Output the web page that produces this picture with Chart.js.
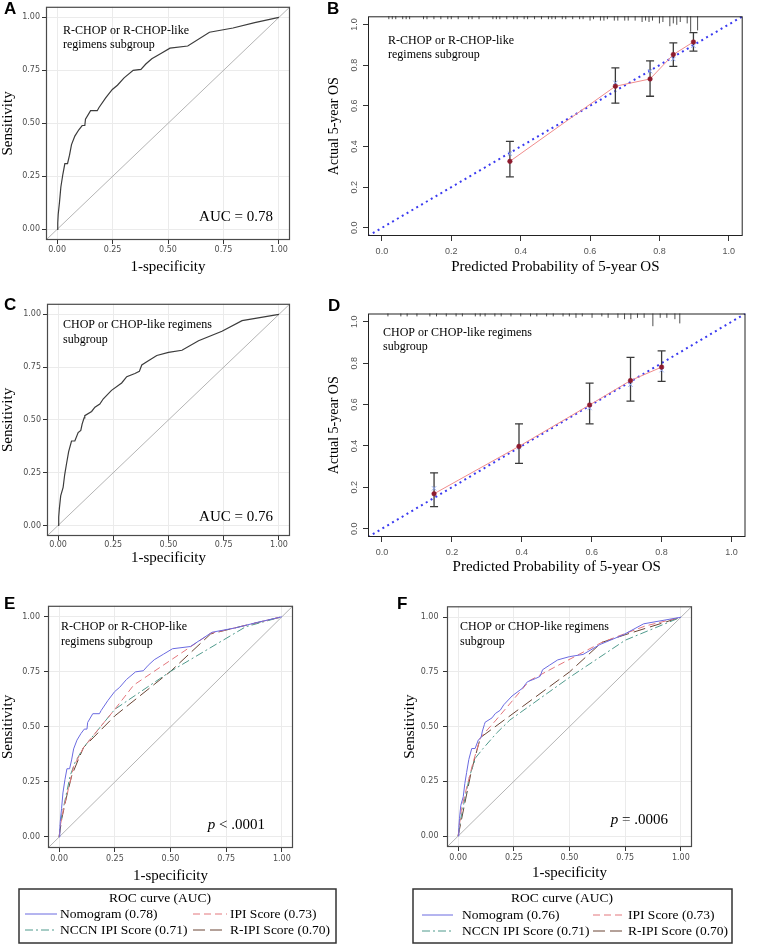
<!DOCTYPE html>
<html>
<head>
<meta charset="utf-8">
<script src="https://cdn.jsdelivr.net/npm/chart.js@4.4.1/dist/chart.umd.min.js"></script>
<style>
  body { margin: 0; background: #fff; }
  #fig { position: relative; width: 759px; height: 945px; overflow: hidden; background: #fff; }
  .panel { position: absolute; }
  .tag { position: absolute; font: bold 17px 'Liberation Sans', Arial, sans-serif; line-height: 17px; color: #000; }
</style>
</head>
<body>
<div id="fig">
  <div class="panel" style="left:0;top:0"><canvas id="rocA" width="295" height="280"></canvas></div>
  <div class="panel" style="left:310px;top:0"><canvas id="calB" width="449" height="280"></canvas></div>
  <div class="panel" style="left:0;top:297px"><canvas id="rocC" width="295" height="280"></canvas></div>
  <div class="panel" style="left:310px;top:300px"><canvas id="calD" width="449" height="280"></canvas></div>
  <div class="panel" style="left:0;top:597px"><canvas id="rocE" width="340" height="348"></canvas></div>
  <div class="panel" style="left:400px;top:597px"><canvas id="rocF" width="359" height="348"></canvas></div>

  <div class="tag" style="left:4px;top:0">A</div>
  <div class="tag" style="left:327px;top:0">B</div>
  <div class="tag" style="left:4px;top:296px">C</div>
  <div class="tag" style="left:328px;top:297px">D</div>
  <div class="tag" style="left:4px;top:595px">E</div>
  <div class="tag" style="left:397px;top:595px">F</div>
</div>

<script>
// ---- data ----

// axis ticks / limits
const rocTicks = [0, 0.25, 0.5, 0.75, 1];
const calTicks = [0, 0.2, 0.4, 0.6, 0.8, 1];
const rocLimits = [-0.05, 1.05];
const calLimits = [-0.04, 1.04];

// legend names + AUCs
const scoreNames = ['Nomogram', 'IPI Score', 'NCCN IPI Score', 'R-IPI Score'];
const aucRchop = [0.78, 0.73, 0.71, 0.70];
const aucChop = [0.76, 0.73, 0.71, 0.70];

// R-CHOP subgroup ROC curves (1-specificity, sensitivity)
const nomoRFpr = [0, 0.003, 0.005, 0.011, 0.017, 0.026, 0.035, 0.047, 0.056, 0.065, 0.080, 0.098, 0.113, 0.125, 0.128, 0.151, 0.181, 0.189, 0.219, 0.249, 0.272, 0.302, 0.343, 0.378, 0.400, 0.427, 0.468, 0.509, 0.589, 0.687, 0.793, 0.891, 1];
const nomoRTpr = [0, 0.03, 0.07, 0.13, 0.20, 0.26, 0.31, 0.31, 0.35, 0.40, 0.44, 0.47, 0.49, 0.49, 0.52, 0.56, 0.56, 0.575, 0.62, 0.66, 0.68, 0.715, 0.75, 0.755, 0.78, 0.805, 0.83, 0.855, 0.865, 0.93, 0.95, 0.975, 1];
const ipiRFpr = [0, 0.005, 0.02, 0.042, 0.065, 0.11, 0.25, 0.335, 0.68, 0.778, 1];
const ipiRTpr = [0, 0.05, 0.13, 0.22, 0.32, 0.407, 0.58, 0.69, 0.925, 0.947, 1];
const nccnRFpr = [0, 0.009, 0.027, 0.05, 0.072, 0.11, 0.25, 0.5, 0.838, 1];
const nccnRTpr = [0, 0.084, 0.17, 0.28, 0.34, 0.407, 0.58, 0.752, 0.955, 1];
const ripiRFpr = [0, 0.012, 0.035, 0.057, 0.087, 0.11, 0.25, 0.5, 0.68, 0.778, 1];
const ripiRTpr = [0, 0.084, 0.19, 0.28, 0.354, 0.407, 0.55, 0.752, 0.922, 0.947, 1];

// CHOP subgroup ROC curves
const nomoCFpr = [0, 0.003, 0.006, 0.012, 0.023, 0.03, 0.038, 0.048, 0.061, 0.076, 0.091, 0.103, 0.109, 0.118, 0.121, 0.152, 0.167, 0.189, 0.205, 0.242, 0.288, 0.311, 0.348, 0.368, 0.379, 0.409, 0.447, 0.5, 0.561, 0.636, 0.742, 0.833, 1];
const nomoCTpr = [0, 0.04, 0.08, 0.14, 0.18, 0.24, 0.29, 0.35, 0.40, 0.40, 0.44, 0.45, 0.48, 0.51, 0.52, 0.54, 0.56, 0.575, 0.60, 0.64, 0.675, 0.705, 0.72, 0.73, 0.76, 0.78, 0.805, 0.82, 0.83, 0.875, 0.92, 0.97, 1];
const ipiCFpr = [0, 0.015, 0.037, 0.067, 0.1, 0.17, 0.32, 0.43, 0.645, 0.84, 1];
const ipiCTpr = [0, 0.126, 0.216, 0.336, 0.45, 0.53, 0.71, 0.77, 0.885, 0.96, 1];
const nccnCFpr = [0, 0.012, 0.03, 0.052, 0.08, 0.112, 0.172, 0.232, 0.5, 0.75, 1];
const nccnCTpr = [0, 0.08, 0.17, 0.276, 0.36, 0.40, 0.47, 0.53, 0.725, 0.895, 1];
const ripiCFpr = [0, 0.03, 0.06, 0.1, 0.5, 0.645, 0.75, 1];
const ripiCTpr = [0, 0.15, 0.30, 0.45, 0.75, 0.885, 0.92, 1];

// calibration, R-CHOP subgroup
const calRPred = [0.369, 0.673, 0.773, 0.840, 0.898];
const calRObs = [0.327, 0.696, 0.732, 0.852, 0.914];
const calRLo = [0.251, 0.613, 0.647, 0.794, 0.869];
const calRHi = [0.425, 0.786, 0.821, 0.909, 0.960];
const calRCorr = [0.365, 0.713, 0.770, 0.830, 0.895];
const rugRX = [0.02, 0.03, 0.04, 0.06, 0.07, 0.08, 0.12, 0.13, 0.15, 0.17, 0.19, 0.20, 0.22, 0.25, 0.26, 0.28, 0.32, 0.33, 0.34, 0.36, 0.38, 0.39, 0.41, 0.42, 0.44, 0.46, 0.48, 0.49, 0.50, 0.52, 0.53, 0.55, 0.57, 0.58, 0.60, 0.61, 0.63, 0.64, 0.65, 0.67, 0.68, 0.70, 0.71, 0.73, 0.75, 0.76, 0.77, 0.78, 0.80, 0.81, 0.83, 0.84, 0.85, 0.86, 0.88, 0.89, 0.91];
const rugRN = [1, 1, 1, 1, 1, 1, 1, 1, 1, 1, 1, 1, 1, 1, 1, 1, 1, 1, 1, 1, 1, 1, 1, 1, 1, 1, 1, 1, 1, 1, 1, 1, 1, 1, 2, 1, 2, 2, 1, 2, 2, 2, 2, 2, 3, 2, 3, 2, 4, 3, 6, 4, 5, 3, 4, 10, 9];

// calibration, CHOP subgroup
const calCPred = [0.149, 0.392, 0.594, 0.711, 0.800];
const calCObs = [0.169, 0.398, 0.598, 0.716, 0.781];
const calCLo = [0.107, 0.316, 0.507, 0.617, 0.712];
const calCHi = [0.270, 0.507, 0.704, 0.828, 0.859];
const calCCorr = [0.195, 0.394, 0.583, 0.696, 0.766];
const rugCX = [0.017, 0.054, 0.072, 0.10, 0.137, 0.156, 0.184, 0.212, 0.23, 0.267, 0.281, 0.295, 0.323, 0.341, 0.369, 0.397, 0.425, 0.443, 0.471, 0.49, 0.518, 0.536, 0.555, 0.573, 0.601, 0.629, 0.647, 0.675, 0.694, 0.712, 0.731, 0.75, 0.775, 0.796, 0.815, 0.838, 0.852];
const rugCN = [1, 1, 1, 1, 1, 1, 1, 1, 1, 1, 1, 1, 1, 1, 1, 1, 1, 1, 1, 1, 1, 1, 2, 1, 2, 1, 2, 2, 3, 3, 2, 2, 8, 2, 2, 3, 6];

// ---- styling ----
const serif = "'Liberation Serif', 'Times New Roman', serif";
const ggSans = "'DejaVu Sans', sans-serif";
const rSans = "'Liberation Sans', Arial, sans-serif";

Chart.defaults.font.family = serif;
Chart.defaults.animation = false;
Chart.defaults.events = [];
Chart.defaults.plugins.legend.display = false;
Chart.defaults.plugins.tooltip.enabled = false;

const toPts = (xs, ys) => xs.map((x, i) => ({ x, y: ys[i] }));

// box around the plotting panel
Chart.register({
    id: 'panelBox',
    afterDatasetsDraw(chart, args, opts) {
        const { ctx, chartArea: { left, top, right, bottom } } = chart;
        ctx.save();
        ctx.strokeStyle = opts.color || '#444';
        ctx.lineWidth = opts.width || 1;
        ctx.strokeRect(left + 0.5, top + 0.5, right - left - 1, bottom - top - 1);
        ctx.restore();
    }
});

// free text inside the panel (subgroup name, AUC, p value)
Chart.register({
    id: 'notes',
    afterDraw(chart, args, opts) {
        if (!opts.items) return;
        const { ctx, chartArea: { left, top, right, bottom } } = chart;
        ctx.save();
        ctx.fillStyle = '#000';
        ctx.textBaseline = 'middle';
        opts.items.forEach(it => {
            const parts = it.parts || [[it.text, it.font]];
            let width = 0;
            parts.forEach(([t, f]) => { ctx.font = f; width += ctx.measureText(t).width; });
            let x = it.corner === 'br' ? right + it.dx : left + it.dx;
            const y = it.corner === 'br' ? bottom + it.dy : top + it.dy;
            if (it.align === 'right') x -= width;
            parts.forEach(([t, f]) => {
                ctx.font = f;
                ctx.textAlign = 'left';
                ctx.fillText(t, x, y);
                x += ctx.measureText(t).width;
            });
        });
        ctx.restore();
    }
});

// ggplot-style boxed legend, two columns
Chart.register({
    id: 'rocLegend',
    afterDraw(chart, args, opts) {
        if (!opts.box) return;
        const { ctx } = chart;
        const [x0, y0, x1, y1] = opts.box;
        ctx.save();
        ctx.strokeStyle = '#333';
        ctx.lineWidth = 1.5;
        ctx.strokeRect(x0, y0, x1 - x0, y1 - y0);
        ctx.font = '13.5px ' + serif;
        ctx.fillStyle = '#000';
        ctx.textBaseline = 'middle';
        ctx.textAlign = 'center';
        ctx.fillText(opts.title, opts.titleX, opts.titleY);
        ctx.textAlign = 'left';
        chart.data.datasets.filter(d => d.inLegend).forEach((d, i) => {
            const row = Math.floor(i / 2), col = i % 2;
            const [lx0, lx1, tx] = opts.cols[col];
            const y = opts.rows[row];
            ctx.save();
            ctx.strokeStyle = d.borderColor;
            ctx.lineWidth = d.borderWidth;
            ctx.setLineDash(d.borderDash || []);
            ctx.beginPath();
            ctx.moveTo(lx0, y);
            ctx.lineTo(lx1, y);
            ctx.stroke();
            ctx.restore();
            ctx.fillText(d.label, tx, y);
        });
        ctx.restore();
    }
});

function rocChart(id, curves, o) {
    const datasets = curves.map(c => ({
        label: c.label,
        inLegend: c.inLegend,
        data: toPts(c.xs, c.ys),
        showLine: true,
        borderColor: c.color,
        borderWidth: c.width || 1,
        borderDash: c.dash || [],
        pointRadius: 0,
        tension: 0
    }));
    // chance line
    datasets.push({
        data: toPts(rocLimits, rocLimits),
        showLine: true,
        borderColor: '#ababab',
        borderWidth: 0.9,
        pointRadius: 0
    });

    return new Chart(document.getElementById(id), {
        type: 'scatter',
        data: { datasets },
        options: {
            responsive: false,
            layout: { padding: o.padding },
            scales: {
                x: {
                    type: 'linear', min: rocLimits[0], max: rocLimits[1],
                    afterBuildTicks: s => { s.ticks = rocTicks.map(v => ({ value: v })); },
                    afterFit: s => { s.height = o.xh; },
                    grid: { color: '#ebebeb', tickColor: '#333', tickLength: 4 },
                    border: { display: false },
                    ticks: { font: { family: ggSans, size: 8 }, color: '#4d4d4d', padding: o.xpad, maxRotation: 0, autoSkip: false, callback: v => v.toFixed(2) },
                    title: { display: true, text: '1-specificity', color: '#000', font: { family: serif, size: 15, lineHeight: 1 }, padding: { top: 0, bottom: o.xtpad } }
                },
                y: {
                    type: 'linear', min: rocLimits[0], max: rocLimits[1],
                    afterBuildTicks: s => { s.ticks = rocTicks.map(v => ({ value: v })); },
                    afterFit: s => { s.width = o.yw; },
                    grid: { color: '#ebebeb', tickColor: '#333', tickLength: 4 },
                    border: { display: false },
                    ticks: { font: { family: ggSans, size: 8 }, color: '#4d4d4d', padding: o.ypad, autoSkip: false, callback: v => v.toFixed(2) },
                    title: { display: true, text: 'Sensitivity', color: '#000', font: { family: serif, size: 15, lineHeight: 1 }, padding: { top: o.ytpad, bottom: 0 } }
                }
            },
            plugins: {
                panelBox: { color: '#4a4a4a', width: 1.2 },
                notes: { items: o.notes },
                rocLegend: o.legend || {}
            }
        }
    });
}

function calChart(id, pred, obs, lo, hi, corr, rugX, rugN, o) {
    const datasets = [];
    // observed
    datasets.push({
        data: toPts(pred, obs),
        showLine: true,
        borderColor: '#f08c8c',
        borderWidth: 1,
        pointRadius: 2.3,
        pointBackgroundColor: '#8e1b2e',
        pointBorderColor: '#8e1b2e',
        pointBorderWidth: 0.5
    });
    // bias corrected
    datasets.push({
        data: toPts(pred, corr),
        pointStyle: 'crossRot',
        pointRadius: 3,
        pointBorderColor: '#8ea6f2',
        pointBorderWidth: 1
    });
    // error bars
    pred.forEach((p, i) => {
        datasets.push({
            data: [{ x: p, y: lo[i] }, { x: p, y: hi[i] }],
            showLine: true,
            borderColor: '#3a3a3a',
            borderWidth: 1.3,
            pointStyle: 'line',
            pointRadius: 4,
            pointBorderColor: '#3a3a3a',
            pointBorderWidth: 1.3
        });
    });
    // ideal line
    datasets.push({
        data: toPts(calLimits, calLimits),
        showLine: true,
        borderColor: '#3a3af0',
        borderWidth: 2,
        borderDash: [2, 3.6],
        pointRadius: 0
    });
    // rug of predicted values along the top
    datasets.push({
        data: rugX.map(x => ({ x, y: calLimits[1] })),
        clip: 0,
        pointStyle: 'line',
        pointRotation: 90,
        pointRadius: rugN.map(n => 1.5 + 1.4 * n),
        pointBorderColor: '#222',
        pointBorderWidth: 0.8
    });

    return new Chart(document.getElementById(id), {
        type: 'scatter',
        data: { datasets },
        options: {
            responsive: false,
            layout: { padding: o.padding },
            scales: {
                x: {
                    type: 'linear', min: calLimits[0], max: calLimits[1],
                    afterBuildTicks: s => { s.ticks = calTicks.map(v => ({ value: v })); },
                    afterFit: s => { s.height = o.xh; },
                    grid: { drawOnChartArea: false, tickColor: '#333', tickLength: 5 },
                    border: { display: false },
                    ticks: { font: { family: rSans, size: 9 }, color: '#555', padding: o.xpad, maxRotation: 0, autoSkip: false, callback: v => v.toFixed(1) },
                    title: { display: true, text: 'Predicted Probability of 5-year OS', color: '#000', font: { family: serif, size: 15, lineHeight: 1 }, padding: { top: 0, bottom: o.xtpad } }
                },
                y: {
                    type: 'linear', min: calLimits[0], max: calLimits[1],
                    afterBuildTicks: s => { s.ticks = calTicks.map(v => ({ value: v })); },
                    afterFit: s => { s.width = o.yw; },
                    grid: { drawOnChartArea: false, tickColor: '#333', tickLength: 5 },
                    border: { display: false },
                    ticks: { font: { family: rSans, size: 9 }, color: '#555', padding: 2, minRotation: 90, maxRotation: 90, crossAlign: 'center', autoSkip: false, callback: v => v.toFixed(1) },
                    title: { display: true, text: 'Actual 5-year OS', color: '#000', font: { family: serif, size: 14, lineHeight: 1 }, padding: { top: o.ytpad, bottom: 0 } }
                }
            },
            plugins: {
                panelBox: { color: '#222', width: 1 },
                notes: { items: o.notes }
            }
        }
    });
}

const noteFont = '12px ' + serif;
const bigFont = '15px ' + serif;
const italicFont = 'italic 15px ' + serif;

// A
rocChart('rocA', [
    { xs: nomoRFpr, ys: nomoRTpr, color: '#3c3c3c', width: 1.2 }
], {
    padding: { top: 5, right: 5, left: 0, bottom: 0 }, yw: 46, xh: 40, xpad: 1, ypad: 2, xtpad: 5.5, ytpad: 1,
    notes: [
        { text: 'R-CHOP or R-CHOP-like', font: noteFont, dx: 17, dy: 24 },
        { text: 'regimens subgroup', font: noteFont, dx: 17, dy: 38 },
        { text: 'AUC = ' + aucRchop[0].toFixed(2), font: bigFont, corner: 'br', align: 'right', dx: -17, dy: -23 }
    ]
});

// B
calChart('calB', calRPred, calRObs, calRLo, calRHi, calRCorr, rugRX, rugRN, {
    padding: { top: 4, right: 2, left: 0, bottom: 0 }, yw: 58, xh: 44, xpad: 5, xtpad: 5.5, ytpad: 17,
    notes: [
        { text: 'R-CHOP or R-CHOP-like', font: noteFont, dx: 20, dy: 25 },
        { text: 'regimens subgroup', font: noteFont, dx: 20, dy: 39 }
    ]
});

// C
rocChart('rocC', [
    { xs: nomoCFpr, ys: nomoCTpr, color: '#3c3c3c', width: 1.2 }
], {
    padding: { top: 5, right: 5, left: 0, bottom: 0 }, yw: 47, xh: 41, xpad: 0.5, ypad: 2, xtpad: 11.5, ytpad: 1,
    notes: [
        { text: 'CHOP or CHOP-like regimens', font: noteFont, dx: 16, dy: 21 },
        { text: 'subgroup', font: noteFont, dx: 16, dy: 36 },
        { text: 'AUC = ' + aucChop[0].toFixed(2), font: bigFont, corner: 'br', align: 'right', dx: -17, dy: -19 }
    ]
});

// D
calChart('calD', calCPred, calCObs, calCLo, calCHi, calCCorr, rugCX, rugCN, {
    padding: { top: 5, right: 2, left: 0, bottom: 0 }, yw: 58, xh: 43, xpad: 5, xtpad: 5.5, ytpad: 17,
    notes: [
        { text: 'CHOP or CHOP-like regimens', font: noteFont, dx: 15, dy: 19 },
        { text: 'subgroup', font: noteFont, dx: 15, dy: 33 }
    ]
});

const lineColors = ['#6a6ae0', '#e3767c', '#4f9a8c', '#6a4535'];
const lineDashes = [[], [7, 4], [8, 3, 2, 3], [12, 5]];

// E
rocChart('rocE', [
    { label: `${scoreNames[0]} (${aucRchop[0].toFixed(2)})`, inLegend: true, xs: nomoRFpr, ys: nomoRTpr, color: lineColors[0], dash: lineDashes[0] },
    { label: `${scoreNames[1]} (${aucRchop[1].toFixed(2)})`, inLegend: true, xs: ipiRFpr, ys: ipiRTpr, color: lineColors[1], dash: lineDashes[1] },
    { label: `${scoreNames[2]} (${aucRchop[2].toFixed(2)})`, inLegend: true, xs: nccnRFpr, ys: nccnRTpr, color: lineColors[2], dash: lineDashes[2] },
    { label: `${scoreNames[3]} (${aucRchop[3].toFixed(2)})`, inLegend: true, xs: ripiRFpr, ys: ripiRTpr, color: lineColors[3], dash: lineDashes[3] }
], {
    padding: { top: 5, right: 47, left: 0, bottom: 57 }, yw: 48, xh: 40, xpad: 2.5, ypad: 4, xtpad: 4.5, ytpad: 0.5,
    notes: [
        { text: 'R-CHOP or R-CHOP-like', font: noteFont, dx: 13, dy: 21 },
        { text: 'regimens subgroup', font: noteFont, dx: 13, dy: 36 },
        { parts: [['p', italicFont], [' < .0001', bigFont]], corner: 'br', align: 'right', dx: -28, dy: -23 }
    ],
    legend: { box: [19, 292, 336, 346], title: 'ROC curve (AUC)', titleX: 160, titleY: 301, rows: [317, 333], cols: [[25, 57, 60], [193, 227, 230]] }
});

// F
rocChart('rocF', [
    { label: `${scoreNames[0]} (${aucChop[0].toFixed(2)})`, inLegend: true, xs: nomoCFpr, ys: nomoCTpr, color: lineColors[0], dash: lineDashes[0] },
    { label: `${scoreNames[1]} (${aucChop[1].toFixed(2)})`, inLegend: true, xs: ipiCFpr, ys: ipiCTpr, color: lineColors[1], dash: lineDashes[1] },
    { label: `${scoreNames[2]} (${aucChop[2].toFixed(2)})`, inLegend: true, xs: nccnCFpr, ys: nccnCTpr, color: lineColors[2], dash: lineDashes[2] },
    { label: `${scoreNames[3]} (${aucChop[3].toFixed(2)})`, inLegend: true, xs: ripiCFpr, ys: ripiCTpr, color: lineColors[3], dash: lineDashes[3] }
], {
    padding: { top: 5, right: 67, left: 0, bottom: 57 }, yw: 47, xh: 41, xpad: 2.5, ypad: 4.5, xtpad: 7.5, ytpad: 2.5,
    notes: [
        { text: 'CHOP or CHOP-like regimens', font: noteFont, dx: 13, dy: 21 },
        { text: 'subgroup', font: noteFont, dx: 13, dy: 36 },
        { parts: [['p', italicFont], [' = .0006', bigFont]], corner: 'br', align: 'right', dx: -24, dy: -27 }
    ],
    legend: { box: [13, 292, 332, 346], title: 'ROC curve (AUC)', titleX: 162, titleY: 301, rows: [318, 334], cols: [[22, 53, 62], [193, 225, 228]] }
});
</script>
</body>
</html>
